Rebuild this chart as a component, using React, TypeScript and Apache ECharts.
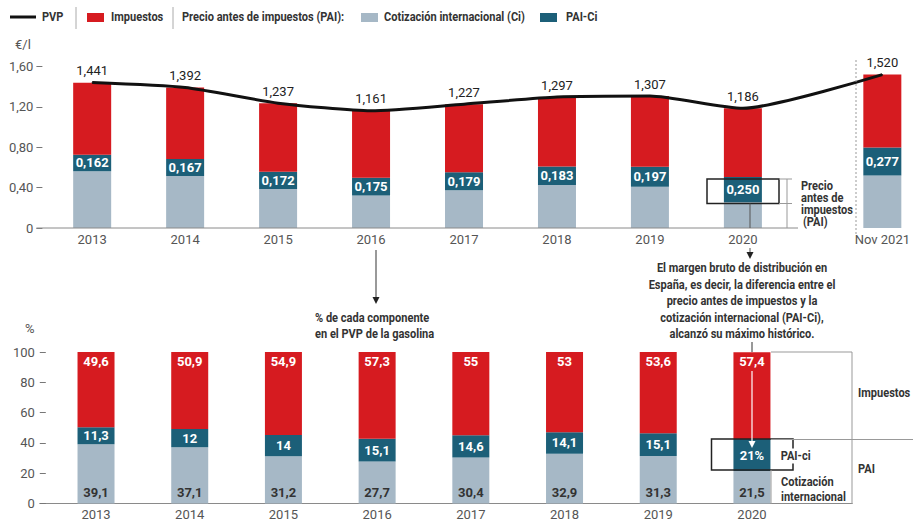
import React, { useEffect, useRef } from "react";
import * as echarts from "echarts";

// ---- data ----
const years = ["2013", "2014", "2015", "2016", "2017", "2018", "2019", "2020"];
const topLabels = ["2013", "2014", "2015", "2016", "2017", "2018", "2019", "2020", "Nov 2021"];
const topPos = [0, 1, 2, 3, 4, 5, 6, 7, 8.5];
const bottomPos = [0, 1, 2, 3, 4, 5, 6, 7];

// €/l
const pvp = [1.441, 1.392, 1.237, 1.161, 1.227, 1.297, 1.307, 1.186, 1.52];
const ciEur = [0.563, 0.516, 0.386, 0.322, 0.373, 0.427, 0.409, 0.255, 0.52];
const paiCiEur = [0.162, 0.167, 0.172, 0.175, 0.179, 0.183, 0.197, 0.25, 0.277];
const taxEur = [0.715, 0.709, 0.679, 0.665, 0.675, 0.687, 0.701, 0.681, 0.723];

// %
const ciPct = [39.1, 37.1, 31.2, 27.7, 30.4, 32.9, 31.3, 21.5];
const paiCiPct = [11.3, 12, 14, 15.1, 14.6, 14.1, 15.1, 21];
const taxPct = [49.6, 50.9, 54.9, 57.3, 55, 53, 53.6, 57.4];

const RED = "#d61b20";
const DARK = "#1c5f78";
const LIGHT = "#a6b8c6";
const FONT = "Roboto, 'Liberation Sans', sans-serif";
const TXT = "#333333";
const SX = 0.85;

const comma = (v: number, d?: number) => (d === undefined ? String(v) : v.toFixed(d)).replace(".", ",");

function txt(text: string, x: number, y: number, opts: any = {}) {
  return {
    type: "text",
    z: 100,
    x,
    y,
    scaleX: opts.sx === undefined ? SX : opts.sx,
    style: {
      text,
      x: 0,
      y: 0,
      fill: opts.fill || TXT,
      fontFamily: FONT,
      fontSize: opts.size || 13,
      fontWeight: opts.weight || "bold",
      textAlign: opts.align || "left",
      verticalAlign: "middle",
      textVerticalAlign: "middle",
      backgroundColor: opts.bg,
      padding: opts.bg ? [1, 2] : undefined,
    },
  };
}
function ln(x1: number, y1: number, x2: number, y2: number, stroke = "#888", lineWidth = 1, dash?: number[]) {
  return {
    type: "line",
    z: 100,
    shape: { x1, y1, x2, y2 },
    style: { stroke, lineWidth, lineDash: dash },
  };
}
function tri(x: number, yTip: number, fill = "#222") {
  return {
    type: "polygon",
    z: 100,
    shape: { points: [[x - 3.5, yTip - 7], [x + 3.5, yTip - 7], [x, yTip]] },
    style: { fill },
  };
}
function box(x: number, y: number, w: number, h: number, stroke = "#222", lw = 1.5) {
  return {
    type: "rect",
    z: 99,
    shape: { x, y, width: w, height: h },
    style: { fill: "none", stroke, lineWidth: lw },
  };
}

export default function App() {
  const ref = useRef<HTMLDivElement>(null);
  useEffect(() => {
    if (!ref.current) return;
    const chart = echarts.init(ref.current, null, { renderer: "svg" });

    const graphic: any[] = [
      // legend
      ln(10, 17, 36, 17, "#111", 3),
      txt("PVP", 42, 17),
      ln(76, 7, 76, 29, "#aaa", 1),
      { type: "rect", z: 100, shape: { x: 87, y: 13, width: 17, height: 9 }, style: { fill: RED } },
      txt("Impuestos", 111, 17),
      ln(173, 7, 173, 29, "#aaa", 1),
      txt("Precio antes de impuestos (PAI):", 182, 17),
      { type: "rect", z: 100, shape: { x: 361, y: 13, width: 17, height: 9 }, style: { fill: LIGHT } },
      txt("Cotización internacional (Ci)", 384, 17),
      { type: "rect", z: 100, shape: { x: 540, y: 13, width: 17, height: 9 }, style: { fill: DARK } },
      txt("PAI-Ci", 566, 17),
      // units
      txt("€/l", 15, 44, { weight: "normal", fill: "#555", size: 13, sx: 1 }),
      txt("%", 25, 328, { weight: "normal", fill: "#555", size: 13, sx: 1 }),
      // top axis line
      ln(36.4, 228, 798, 228, "#8a8a8a", 1),
      // dotted separator
      ln(856, 60, 856, 234, "#999", 1, [2, 2]),
      // top 2020 box + bracket
      box(707, 179, 72, 24.5),
      ln(750, 203.5, 750, 228, "#555", 1),
      ln(750, 248, 750, 254, "#555", 1),
      tri(750, 259),
      ln(779, 179, 792, 179, "#999", 1),
      ln(779, 203.5, 792, 203.5, "#999", 1),
      ln(787, 179, 787, 228, "#999", 1),
      txt("Precio", 801, 186),
      txt("antes de", 801, 198),
      txt("impuestos", 801, 210),
      txt("(PAI)", 803, 222),
      // middle arrow + text
      ln(376, 250, 376, 298, "#555", 1.2),
      tri(376, 304),
      txt("% de cada componente", 315, 318),
      txt("en el PVP de la gasolina", 315, 334),
      // right annotation
      txt("El margen bruto de distribución en", 742, 268, { align: "center" }),
      txt("España, es decir, la diferencia entre el", 742, 285, { align: "center" }),
      txt("precio antes de impuestos y la", 742, 301, { align: "center" }),
      txt("cotización internacional (PAI-Ci),", 742, 318, { align: "center" }),
      txt("alcanzó su máximo histórico.", 742, 334, { align: "center" }),
      ln(752, 342, 752, 352, "#333", 1),
      ln(752, 371, 752, 442, "#fff", 1.2),
      tri(752, 448, "#fff"),
      // bottom box + brackets
      box(711.5, 439, 81.5, 31),
      ln(771, 352, 852, 352, "#999", 1),
      ln(852, 352, 852, 504, "#999", 1),
      ln(771, 439.5, 913, 439.5, "#999", 1),
      ln(771, 470, 771, 504, "#999", 1),
      txt("Impuestos", 858, 393),
      txt("PAI", 858, 469),
      txt("PAI-ci", 779, 456, { bg: "#ffffff" }),
      txt("Cotización", 781, 482),
      txt("internacional", 781, 497),
    ];

    const topLabelFmt = (v: number) => {
      const i = topPos.indexOf(v);
      return i >= 0 ? topLabels[i] : "";
    };
    const botLabelFmt = (v: number) => {
      const i = bottomPos.indexOf(v);
      return i >= 0 ? years[i] : "";
    };

    // bars: data as [value, position] so the stacked dimension is the value
    const barData = (vals: number[], pos: number[]) => pos.map((x, i) => [vals[i], x]);

    const option: any = {
      animation: false,
      textStyle: { fontFamily: FONT },
      grid: [
        { left: 36.4, top: 66.5, width: 869.6, height: 161.5 },
        { left: 39.8, top: 352, width: 812.4, height: 151.5 },
      ],
      xAxis: [
        {
          gridIndex: 0,
          type: "value",
          min: -0.6,
          max: 8.7,
          axisLine: { show: false },
          axisTick: { show: false },
          splitLine: { show: false },
          axisLabel: {
            customValues: topPos,
            formatter: topLabelFmt,
            fontSize: 13,
            color: "#555",
            margin: 5,
            fontFamily: FONT,
          },
        },
        {
          gridIndex: 1,
          type: "value",
          min: -0.6,
          max: 8.07,
          axisLine: { show: true, onZero: false, lineStyle: { color: "#8a8a8a", width: 1 } },
          axisTick: { show: false },
          splitLine: { show: false },
          axisLabel: {
            customValues: bottomPos,
            formatter: botLabelFmt,
            fontSize: 13,
            color: "#555",
            margin: 4,
            fontFamily: FONT,
          },
        },
      ],
      yAxis: [
        {
          gridIndex: 0,
          type: "value",
          min: 0,
          max: 1.6,
          interval: 0.4,
          axisLine: { show: false, onZero: false },
          axisTick: { show: true, inside: true, length: 6, lineStyle: { color: "#777" } },
          splitLine: { show: false },
          axisLabel: {
            formatter: (v: number) => (v === 0 ? "0" : comma(v, 2)),
            fontSize: 13,
            color: "#555",
            margin: 3,
            fontFamily: FONT,
          },
        },
        {
          gridIndex: 1,
          type: "value",
          min: 0,
          max: 100,
          interval: 20,
          axisLine: { show: false, onZero: false },
          axisTick: { show: true, inside: true, length: 6, lineStyle: { color: "#777" } },
          splitLine: { show: false },
          axisLabel: {
            formatter: (v: number) => String(v),
            fontSize: 13,
            color: "#555",
            margin: 5,
            fontFamily: FONT,
          },
        },
      ],
      series: [
        {
          type: "bar",
          name: "Cotización internacional (Ci)",
          xAxisIndex: 0,
          yAxisIndex: 0,
          stack: "top",
          barWidth: 38,
          encode: { x: 1, y: 0 },
          itemStyle: { color: LIGHT },
          data: barData(ciEur, topPos),
        },
        {
          type: "bar",
          name: "PAI-Ci",
          xAxisIndex: 0,
          yAxisIndex: 0,
          stack: "top",
          barWidth: 38,
          encode: { x: 1, y: 0 },
          itemStyle: { color: DARK },
          label: {
            show: true,
            position: "inside",
            color: "#fff",
            fontWeight: "bold",
            fontSize: 13,
            fontFamily: FONT,
            formatter: (p: any) => comma(p.value[0], 3),
          },
          data: barData(paiCiEur, topPos),
        },
        {
          type: "bar",
          name: "Impuestos",
          xAxisIndex: 0,
          yAxisIndex: 0,
          stack: "top",
          barWidth: 38,
          encode: { x: 1, y: 0 },
          itemStyle: { color: RED },
          data: barData(taxEur, topPos),
        },
        {
          type: "line",
          name: "PVP",
          xAxisIndex: 0,
          yAxisIndex: 0,
          smooth: 0.2,
          symbol: "circle",
          symbolSize: 1,
          z: 10,
          lineStyle: { color: "#111", width: 3 },
          itemStyle: { color: "#111" },
          label: {
            show: true,
            position: "top",
            distance: 5,
            color: "#222",
            fontSize: 13,
            fontFamily: FONT,
            formatter: (p: any) => comma(p.value[1], 3),
          },
          data: topPos.map((x, i) => [x, pvp[i]]),
        },
        {
          type: "bar",
          name: "Ci %",
          xAxisIndex: 1,
          yAxisIndex: 1,
          stack: "bot",
          barWidth: 37,
          encode: { x: 1, y: 0 },
          itemStyle: { color: LIGHT },
          label: {
            show: true,
            position: "insideBottom",
            distance: 5,
            color: "#333",
            fontWeight: "bold",
            fontSize: 13,
            fontFamily: FONT,
            formatter: (p: any) => comma(p.value[0]),
          },
          data: barData(ciPct, bottomPos),
        },
        {
          type: "bar",
          name: "PAI-Ci %",
          xAxisIndex: 1,
          yAxisIndex: 1,
          stack: "bot",
          barWidth: 37,
          encode: { x: 1, y: 0 },
          itemStyle: { color: DARK },
          label: {
            show: true,
            position: "inside",
            color: "#fff",
            fontWeight: "bold",
            fontSize: 13,
            fontFamily: FONT,
            formatter: (p: any) => comma(p.value[0]) + (p.dataIndex === 7 ? "%" : ""),
          },
          data: barData(paiCiPct, bottomPos),
        },
        {
          type: "bar",
          name: "Impuestos %",
          xAxisIndex: 1,
          yAxisIndex: 1,
          stack: "bot",
          barWidth: 37,
          encode: { x: 1, y: 0 },
          itemStyle: { color: RED },
          label: {
            show: true,
            position: "insideTop",
            distance: 3,
            color: "#fff",
            fontWeight: "bold",
            fontSize: 13,
            fontFamily: FONT,
            formatter: (p: any) => comma(p.value[0]),
          },
          data: barData(taxPct, bottomPos),
        },
      ],
      graphic,
    };
    chart.setOption(option);
    return () => chart.dispose();
  }, []);

  return (
    <div
      ref={ref}
      style={{ position: "absolute", left: 0, top: 0, width: 913, height: 521, background: "#fff" }}
    />
  );
}
